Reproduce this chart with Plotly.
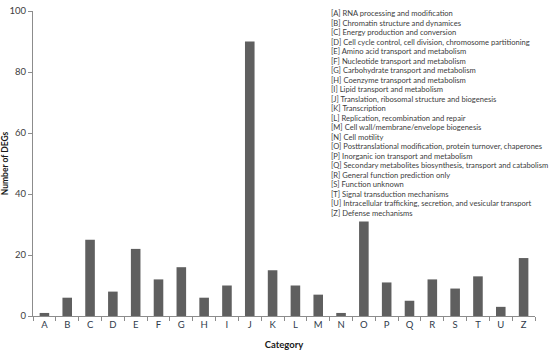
import plotly.graph_objects as go

categories = ["A","B","C","D","E","F","G","H","I","J","K","L","M","N","O","P","Q","R","S","T","U","Z"]
values = [1,6,25,8,22,12,16,6,10,90,15,10,7,1,31,11,5,12,9,13,3,19]
descriptions = [
    "[A] RNA processing and modification",
    "[B] Chromatin structure and dynamices",
    "[C] Energy production and conversion",
    "[D] Cell cycle control, cell division, chromosome partitioning",
    "[E] Amino acid transport and metabolism",
    "[F] Nucleotide transport and metabolism",
    "[G] Carbohydrate transport and metabolism",
    "[H] Coenzyme transport and metabolism",
    "[I] Lipid transport and metabolism",
    "[J] Translation, ribosomal structure and biogenesis",
    "[K] Transcription",
    "[L] Replication, recombination and repair",
    "[M] Cell wall/membrane/envelope biogenesis",
    "[N] Cell motility",
    "[O] Posttranslational modification, protein turnover, chaperones",
    "[P] Inorganic ion transport and metabolism",
    "[Q] Secondary metabolites biosynthesis, transport and catabolism",
    "[R] General function prediction only",
    "[S] Function unknown",
    "[T] Signal transduction mechanisms",
    "[U] Intracellular trafficking, secretion, and vesicular transport",
    "[Z] Defense mechanisms",
]
y_ticks = [0, 20, 40, 60, 80, 100]

W, H = 550, 354
L, R, T, B = 33, 15, 11, 38
pw, ph = W - L - R, H - T - B

fig = go.Figure()
fig.add_trace(go.Bar(x=categories, y=values, marker=dict(color="#5f5f5f", line=dict(width=0)), width=0.42))

fig.update_layout(
    width=W, height=H,
    margin=dict(l=L, r=R, t=T, b=B),
    paper_bgcolor="white", plot_bgcolor="white",
    showlegend=False,
    font=dict(family="Lato, Open Sans, sans-serif", color="#404040"),
)
fig.update_xaxes(
    automargin=False,
    showline=True, linecolor="#8c8c8c", linewidth=1,
    ticks="outside", ticklen=4, tickcolor="#8c8c8c", tickson="boundaries",
    tickfont=dict(size=9.5, color="#2f3a4a"),
    title=dict(text="<b>Category</b>", font=dict(size=9.5, color="#1a1a1a"), standoff=11),
    showgrid=False,
)
fig.update_yaxes(
    automargin=False,
    range=[0, 100], tickvals=y_ticks,
    showline=True, linecolor="#8c8c8c", linewidth=1,
    ticks="outside", ticklen=4, tickcolor="#8c8c8c",
    tickfont=dict(size=9.5, color="#404040"),
    title=dict(text="<b>Number of DEGs</b>", font=dict(size=8.5, color="#1a1a1a"), standoff=6),
    showgrid=False, zeroline=False,
)
for i, d in enumerate(descriptions):
    py = 13 + i * 9.52
    fig.add_annotation(
        x=(329 - L) / pw, y=1 - (py - T) / ph, xref="paper", yref="paper",
        text=d, showarrow=False, xanchor="left", yanchor="middle", align="left",
        font=dict(size=7.6, color="#404040"),
    )
fig.write_html("out.html", config={"displayModeBar": False},
               post_script="document.body.style.margin='0';document.body.style.padding='0';")
